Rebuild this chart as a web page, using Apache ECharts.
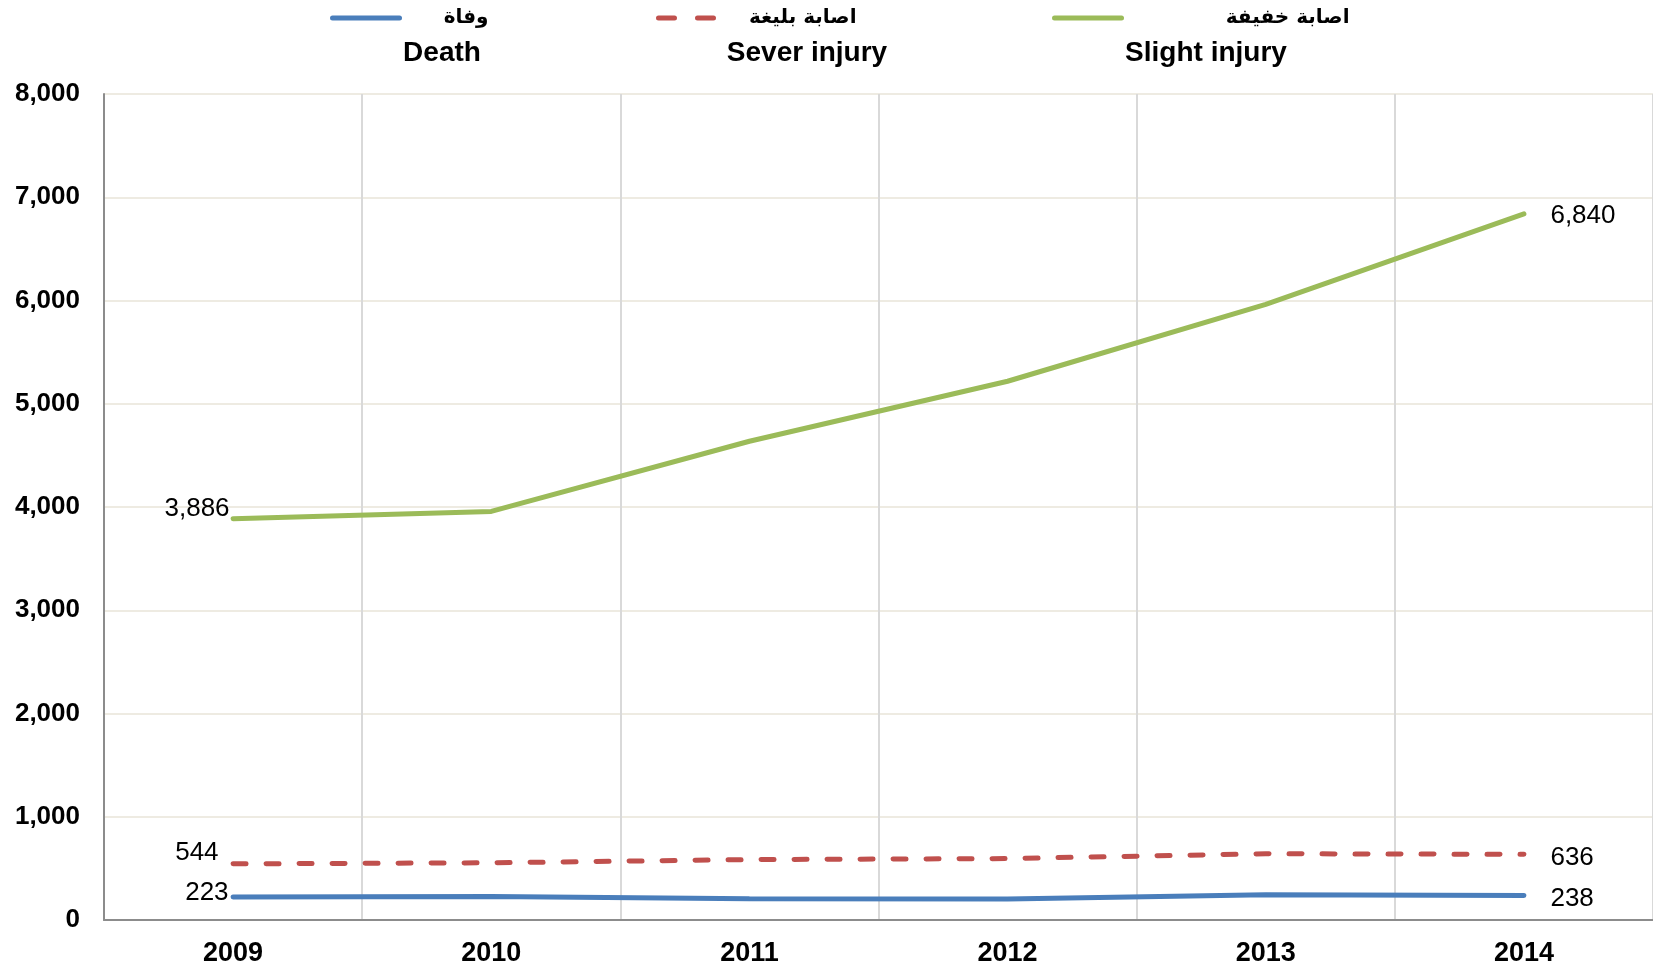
<!DOCTYPE html>
<html><head><meta charset="utf-8">
<script src="https://cdn.jsdelivr.net/npm/echarts@6/dist/echarts.min.js"></script>
<style>html,body{margin:0;padding:0;background:#fff}#c{width:1653px;height:968px}</style>
</head><body><div id="c"></div>
<script>
const years = ['2009','2010','2011','2012','2013','2014'];
const death = [223, 228, 206, 203, 244, 238];
const severe = [544, 554, 585, 595, 642, 636];
const slight = [3886, 3957, 4637, 5218, 5962, 6840];
const namesAr = ['وفاة', 'اصابة بليغة', 'اصابة خفيفة'];
const namesEn = ['Death', 'Sever injury', 'Slight injury'];
const yTicks = [0, 1000, 2000, 3000, 4000, 5000, 6000, 7000, 8000];

const FONT = '"Liberation Sans", Arial, sans-serif';
const fmt = v => Number(v).toLocaleString('en-US');
const colors = ['#4a7ebb', '#c0504d', '#9bbb59'];

function build(vals, leftDist, leftOff, rightDist, rightOff) {
  const n = vals.length;
  return vals.map((v, i) => {
    if (i === 0) return {value: v, symbol: 'circle', symbolSize: 1, label: {show: true, position: 'left', distance: leftDist, offset: leftOff}};
    if (i === n - 1) return {value: v, symbol: 'circle', symbolSize: 1, label: {show: true, position: 'right', distance: rightDist, offset: rightOff}};
    return v;
  });
}

const legendDefs = [
  {left: 330, w: 67, arW: 84, enX: 442, dash: 'solid'},
  {left: 656, w: 55, arW: 138, enX: 807, dash: [16, 23]},
  {left: 1052, w: 67, arW: 223, enX: 1206, dash: 'solid'}
];

const legends = legendDefs.map((d, i) => ({
  data: [namesEn[i]],
  left: d.left, top: 8, padding: 0,
  itemWidth: d.w, itemHeight: 14, itemGap: 5,
  lineStyle: {width: 5, cap: 'round', type: d.dash},
  itemStyle: {opacity: 0},
  formatter: () => '{ar|' + namesAr[i] + '}',
  textStyle: {
    color: '#000',
    rich: {
      ar: {fontFamily: '"DejaVu Sans", sans-serif', fontWeight: 'bold', fontSize: 20, lineHeight: 30, width: d.arW, align: 'right', color: '#000'}
    }
  }
}));

const enTexts = legendDefs.map((d, i) => ({
  type: 'text', x: d.enX, y: 53, silent: true,
  style: {text: namesEn[i], fill: '#000', font: 'bold 28px ' + FONT, align: 'center', verticalAlign: 'middle'}
}));

const labelStyle = {color: '#000', fontFamily: FONT, fontSize: 26, formatter: p => fmt(p.value)};

const chart = echarts.init(document.getElementById('c'), null, {renderer: 'canvas'});
chart.setOption({
  animation: false,
  backgroundColor: '#fff',
  legend: legends,
  graphic: enTexts,
  grid: {left: 104, right: 0, top: 94, bottom: 48, containLabel: false},
  xAxis: {
    type: 'category', data: years, boundaryGap: true,
    axisLine: {lineStyle: {color: '#8c8c8c', width: 2}},
    axisTick: {show: false},
    axisLabel: {color: '#000', fontFamily: FONT, fontWeight: 'bold', fontSize: 27, margin: 20},
    splitLine: {show: true, interval: 0, lineStyle: {color: '#d9d9d9', width: 2}}
  },
  yAxis: {
    type: 'value', min: yTicks[0], max: yTicks[yTicks.length - 1], interval: 1000,
    axisLine: {show: true, lineStyle: {color: '#8c8c8c', width: 2}},
    axisTick: {show: false},
    axisLabel: {color: '#000', fontFamily: FONT, fontWeight: 'bold', fontSize: 26, margin: 24, formatter: v => fmt(v)},
    splitLine: {show: true, lineStyle: {color: '#eeebe2', width: 2}}
  },
  series: [
    {name: 'Death', type: 'line', symbol: 'none', showSymbol: true, data: build(death, 4, [0, -4], 26, [0, 3]),
     lineStyle: {color: colors[0], width: 5, cap: 'round'}, itemStyle: {color: colors[0]}, label: labelStyle, z: 3},
    {name: 'Sever injury', type: 'line', symbol: 'none', showSymbol: true, data: build(severe, 14, [0, -11], 26, [0, 3]),
     lineStyle: {color: colors[1], width: 5, type: [13, 20], cap: 'round'}, itemStyle: {color: colors[1]}, label: labelStyle, z: 3},
    {name: 'Slight injury', type: 'line', symbol: 'none', showSymbol: true, data: build(slight, 3, [0, -10], 26, [0, 2]),
     lineStyle: {color: colors[2], width: 5, cap: 'round'}, itemStyle: {color: colors[2]}, label: labelStyle, z: 3}
  ]
});
</script></body></html>
